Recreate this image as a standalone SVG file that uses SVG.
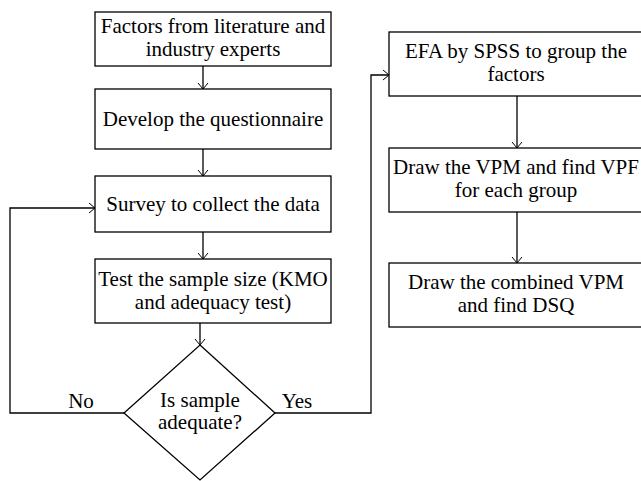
<svg xmlns="http://www.w3.org/2000/svg" width="641" height="481" viewBox="0 0 641 481">
<defs>
<marker id="arr" markerWidth="12" markerHeight="12" refX="10" refY="6" orient="auto" markerUnits="userSpaceOnUse">
<path d="M4,1 L10,6 L4,11" fill="none" stroke="#000" stroke-width="1"/>
</marker>
</defs>
<rect width="641" height="481" fill="#fff"/>
<g id="connectors" fill="none" stroke="#000" stroke-width="1.3">
<path d="M203,66 V89" marker-end="url(#arr)"/>
<path d="M203,149 V176" marker-end="url(#arr)"/>
<path d="M203,232 V259" marker-end="url(#arr)"/>
<path d="M200,323 V345" marker-end="url(#arr)"/>
<path d="M124,413 H10 V208 H95" marker-end="url(#arr)"/>
<path d="M275,413 H371 V75 H389" marker-end="url(#arr)"/>
<path d="M517,96 V148" marker-end="url(#arr)"/>
<path d="M517,212 V263" marker-end="url(#arr)"/>
</g>
<g fill="#fff" stroke="#000" stroke-width="1.3">
<rect id="n1" x="95" y="12" width="236" height="54"/>
<rect id="n2" x="95" y="89" width="236" height="60"/>
<rect id="n3" x="95" y="176" width="236" height="56"/>
<rect id="n4" x="95" y="259" width="236" height="64"/>
<path id="n5" d="M200,345 L275,413 L200,480 L124,413 Z"/>
<rect id="n6" x="389" y="32" width="256" height="64"/>
<rect id="n7" x="389" y="148" width="256" height="64"/>
<rect id="n8" x="389" y="263" width="256" height="64"/>
</g>
<g text-anchor="middle">
<text x="81" y="408" style="font-family:'Liberation Serif',serif;font-size:21px">No</text>
<text x="297" y="408" style="font-family:'Liberation Serif',serif;font-size:21px">Yes</text>
<text x="213" y="33" style="font-family:'Liberation Serif',serif;font-size:21px">Factors from literature and</text>
<text x="213" y="56" style="font-family:'Liberation Serif',serif;font-size:21px">industry experts</text>
<text x="213" y="126" style="font-family:'Liberation Serif',serif;font-size:21px">Develop the questionnaire</text>
<text x="213" y="211" style="font-family:'Liberation Serif',serif;font-size:21px">Survey to collect the data</text>
<text x="213" y="286" style="font-family:'Liberation Serif',serif;font-size:21px">Test the sample size (KMO</text>
<text x="213" y="309" style="font-family:'Liberation Serif',serif;font-size:21px">and adequacy test)</text>
<text x="200" y="407" style="font-family:'Liberation Serif',serif;font-size:21px">Is sample</text>
<text x="200" y="429" style="font-family:'Liberation Serif',serif;font-size:21px">adequate?</text>
<text x="516" y="58" style="font-family:'Liberation Serif',serif;font-size:21px">EFA by SPSS to group the</text>
<text x="516" y="81" style="font-family:'Liberation Serif',serif;font-size:21px">factors</text>
<text x="516" y="174" style="font-family:'Liberation Serif',serif;font-size:21px">Draw the VPM and find VPF</text>
<text x="516" y="197" style="font-family:'Liberation Serif',serif;font-size:21px">for each group</text>
<text x="516" y="289" style="font-family:'Liberation Serif',serif;font-size:21px">Draw the combined VPM</text>
<text x="516" y="312" style="font-family:'Liberation Serif',serif;font-size:21px">and find DSQ</text>
</g>
</svg>
